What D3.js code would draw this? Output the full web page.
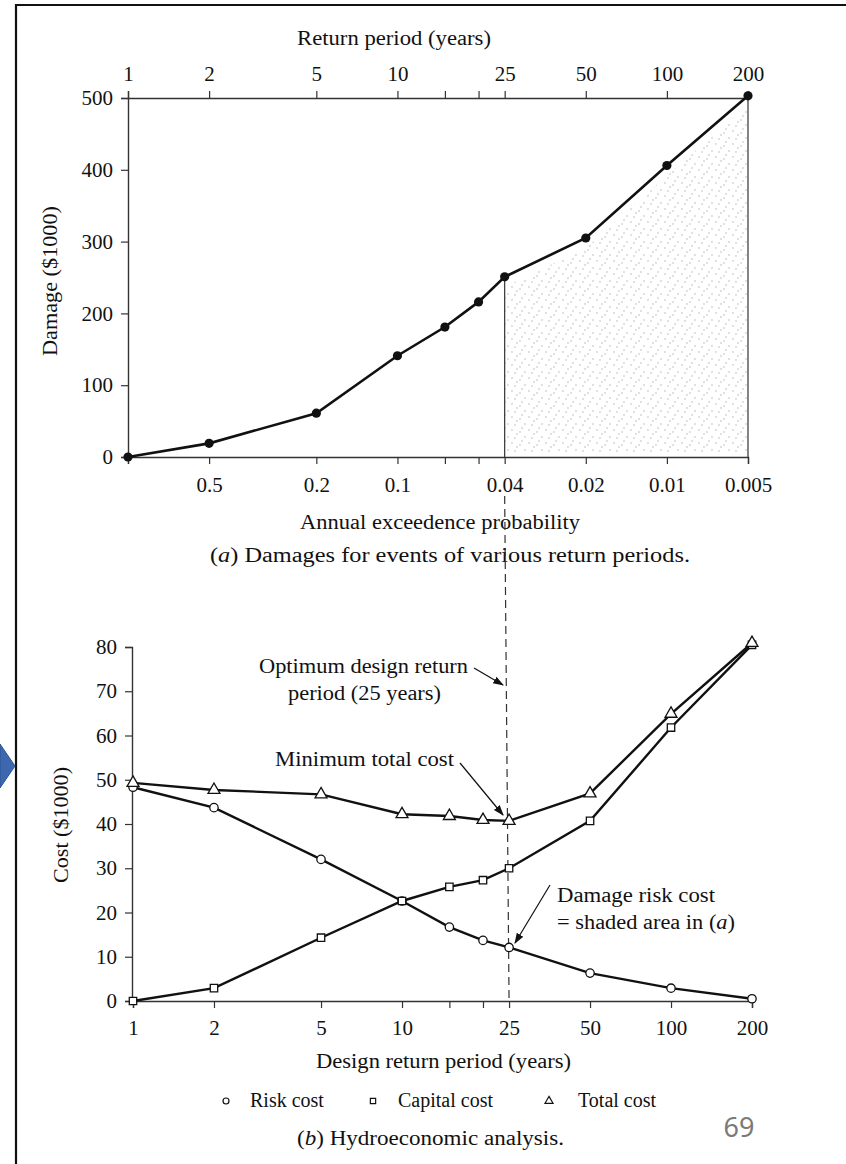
<!DOCTYPE html>
<html>
<head>
<meta charset="utf-8">
<script src="https://cdn.jsdelivr.net/npm/d3@7"></script>
<style>
  body { margin: 0; background: #fff; }
  text { font-family: "Liberation Serif", "Times New Roman", serif; fill: #111; }
</style>
</head>
<body>
<svg id="chart"></svg>
<script>
// data
var periods = [1, 2, 5, 10, 15, 20, 25, 50, 100, 200];
var periodLabels = ["1", "2", "5", "10", "", "", "25", "50", "100", "200"];
var probLabels = ["", "0.5", "0.2", "0.1", "", "", "0.04", "0.02", "0.01", "0.005"];
var damage = [0, 19, 61, 141, 181, 216, 251, 305, 406, 503];
var riskCost = [48.3, 43.7, 32, 22.6, 16.7, 13.7, 12.1, 6.3, 2.9, 0.5];
var capitalCost = [0, 2.9, 14.3, 22.6, 25.8, 27.3, 30.0, 40.7, 61.8, 80.5];
var totalCost = [49.3, 47.7, 46.7, 42.2, 41.8, 40.9, 40.7, 46.9, 64.9, 80.9];
var damageTicks = [0, 100, 200, 300, 400, 500];
var costTicks = [0, 10, 20, 30, 40, 50, 60, 70, 80];
var optimumPeriod = 25;

var width = 846, height = 1164;
var svg = d3.select("svg#chart").attr("width", width).attr("height", height);
svg.append("rect").attr("width", width).attr("height", height).attr("fill", "#fff");

// frame + blue chevron of the slide
svg.append("path").attr("d", "M16,1164 L16,5 L846,5").attr("fill", "none").attr("stroke", "#111").attr("stroke-width", 2.2);
svg.append("path").attr("d", "M0,744 L15,766 L0,788 Z").attr("fill", "#3d67ae").attr("stroke", "#2f528f").attr("stroke-width", 1);

// stipple pattern for the shaded area
var defs = svg.append("defs");
var pat = defs.append("pattern").attr("id", "stipple").attr("patternUnits", "userSpaceOnUse")
   .attr("width", 17).attr("height", 13);
[[2, 1], [10, 3], [15, 8], [5, 9], [12, 12], [7, 5]].forEach(function (p) {
   pat.append("circle").attr("cx", p[0]).attr("cy", p[1]).attr("r", 0.65).attr("fill", "#a8a8a8");
});

// ---------- (a) damages ----------
var xA = d3.scaleLog().domain([1, 200]).range([128, 748]);
var yA = d3.scaleLinear().domain([0, 500]).range([457, 98]);
var dataA = periods.map(function (p, i) { return { p: p, v: damage[i] }; });

var gA = svg.append("g");

var shaded = dataA.filter(function (d) { return d.p >= optimumPeriod; });
gA.append("path").datum(shaded).attr("fill", "url(#stipple)")
   .attr("transform", "translate(0,0)")
   .attr("d", d3.area().x(function (d) { return xA(d.p); }).y0(yA(0) - 4).y1(function (d) { return yA(d.v) + 10; }));

function styleAxis(g, size) {
   g.select(".domain").attr("stroke", "#333").attr("stroke-width", 1.4);
   g.selectAll(".tick line").attr("stroke", "#333").attr("stroke-width", 1.2);
   g.selectAll(".tick text").attr("fill", "#111").style("font-family", '"Liberation Serif", serif').style("font-size", size + "px");
}

var topAxis = gA.append("g").attr("transform", "translate(0," + yA(500) + ")")
   .call(d3.axisTop(xA).tickValues(periods).tickSizeOuter(0).tickSize(7).tickPadding(10)
      .tickFormat(function (d, i) { return periodLabels[i]; }));
styleAxis(topAxis, 21);

var bottomAxisA = gA.append("g").attr("transform", "translate(0," + yA(0) + ")")
   .call(d3.axisBottom(xA).tickValues(periods).tickSizeOuter(0).tickSize(7).tickPadding(13)
      .tickFormat(function (d, i) { return probLabels[i]; }));
styleAxis(bottomAxisA, 21);

var leftAxisA = gA.append("g").attr("transform", "translate(" + xA(1) + ",0)")
   .call(d3.axisLeft(yA).tickValues(damageTicks).tickSizeOuter(0).tickSize(7).tickPadding(8));
styleAxis(leftAxisA, 21);

// vertical guides at 25 and 200 years
gA.append("line").attr("x1", xA(optimumPeriod)).attr("x2", xA(optimumPeriod))
   .attr("y1", yA(damage[periods.indexOf(optimumPeriod)])).attr("y2", yA(0))
   .attr("stroke", "#333").attr("stroke-width", 1.2);
gA.append("line").attr("x1", xA(200)).attr("x2", xA(200)).attr("y1", yA(500)).attr("y2", yA(0))
   .attr("stroke", "#333").attr("stroke-width", 1.2);

gA.append("path").datum(dataA).attr("fill", "none").attr("stroke", "#111").attr("stroke-width", 2.6)
   .attr("d", d3.line().x(function (d) { return xA(d.p); }).y(function (d) { return yA(d.v); }));
gA.selectAll("circle.pt").data(dataA).enter().append("circle").attr("class", "pt")
   .attr("cx", function (d) { return xA(d.p); }).attr("cy", function (d) { return yA(d.v); })
   .attr("r", 4.6).attr("fill", "#111");

gA.append("text").attr("x", 297).attr("y", 45).attr("textLength", 194).attr("lengthAdjust", "spacingAndGlyphs")
   .style("font-size", "20px").text("Return period (years)");
gA.append("text").attr("transform", "translate(57,281) rotate(-90)").attr("text-anchor", "middle")
   .attr("textLength", 150).attr("lengthAdjust", "spacingAndGlyphs")
   .style("font-size", "20px").text("Damage ($1000)");
gA.append("text").attr("x", 300).attr("y", 529).attr("textLength", 280).attr("lengthAdjust", "spacingAndGlyphs")
   .style("font-size", "20px").text("Annual exceedence probability");
var capA = gA.append("text").attr("x", 210).attr("y", 562).attr("textLength", 480).attr("lengthAdjust", "spacingAndGlyphs")
   .style("font-size", "20px");
capA.append("tspan").text("(");
capA.append("tspan").style("font-style", "italic").text("a");
capA.append("tspan").text(") Damages for events of various return periods.");

// ---------- (b) hydroeconomic analysis ----------
var xB = d3.scaleLog().domain([1, 200]).range([133, 752]);
var yB = d3.scaleLinear().domain([0, 80]).range([1001, 647]);
var gB = svg.append("g");

// dashed optimum line running from (a) down to (b)
gB.append("line").attr("x1", xA(optimumPeriod)).attr("x2", xB(optimumPeriod))
   .attr("y1", 496).attr("y2", yB(0))
   .attr("stroke", "#333").attr("stroke-width", 1.2).attr("stroke-dasharray", "8,5");

var bottomAxisB = gB.append("g").attr("transform", "translate(0," + yB(0) + ")")
   .call(d3.axisBottom(xB).tickValues(periods).tickSizeOuter(0).tickSize(7).tickPadding(12)
      .tickFormat(function (d, i) { return periodLabels[i]; }));
styleAxis(bottomAxisB, 21);

var leftAxisB = gB.append("g").attr("transform", "translate(" + (xB(1) - 1) + ",0)")
   .call(d3.axisLeft(yB).tickValues(costTicks).tickSizeOuter(0).tickSize(7).tickPadding(8));
styleAxis(leftAxisB, 21);

var series = [
   { name: "Risk cost", values: riskCost, symbol: d3.symbolCircle, size: 55 },
   { name: "Capital cost", values: capitalCost, symbol: d3.symbolSquare, size: 55 },
   { name: "Total cost", values: totalCost, symbol: d3.symbolTriangle, size: 62 }
];
var lineB = d3.line().x(function (d) { return xB(d.p); }).y(function (d) { return yB(d.v); });

series.forEach(function (s) {
   var pts = periods.map(function (p, i) { return { p: p, v: s.values[i] }; });
   gB.append("path").datum(pts).attr("fill", "none").attr("stroke", "#111").attr("stroke-width", 2.4).attr("d", lineB);
   gB.selectAll(null).data(pts).enter().append("path")
      .attr("transform", function (d) { return "translate(" + xB(d.p) + "," + yB(d.v) + ")"; })
      .attr("d", d3.symbol().type(s.symbol).size(s.size))
      .attr("fill", "#fff").attr("stroke", "#111").attr("stroke-width", 1.3);
});

// annotations
defs.append("marker").attr("id", "arrow").attr("viewBox", "0 0 10 10").attr("refX", 9).attr("refY", 5)
   .attr("markerWidth", 9).attr("markerHeight", 9).attr("orient", "auto-start-reverse")
   .append("path").attr("d", "M0,1.5 L10,5 L0,8.5 Z").attr("fill", "#111");

function note(lines, x, y, anchor, lens) {
   lines.forEach(function (t, i) {
      gB.append("text").attr("x", x).attr("y", y + i * 27).attr("text-anchor", anchor)
         .attr("textLength", lens[i]).attr("lengthAdjust", "spacingAndGlyphs")
         .style("font-size", "20px").text(t);
   });
}
function arrow(x1, y1, x2, y2) {
   gB.append("line").attr("x1", x1).attr("y1", y1).attr("x2", x2).attr("y2", y2)
      .attr("stroke", "#111").attr("stroke-width", 1.2).attr("marker-end", "url(#arrow)");
}

note(["Optimum design return"], 259, 673, "start", [209]);
note(["period (25 years)"], 288, 700, "start", [153]);
arrow(474, 668, 503, 685);

note(["Minimum total cost"], 275, 766, "start", [179]);
arrow(460, 763, 503, 815);

gB.append("text").attr("x", 557).attr("y", 902).attr("textLength", 158).attr("lengthAdjust", "spacingAndGlyphs")
   .style("font-size", "20px").text("Damage risk cost");
var sh = gB.append("text").attr("x", 557).attr("y", 929).attr("textLength", 178).attr("lengthAdjust", "spacingAndGlyphs")
   .style("font-size", "20px");
sh.append("tspan").text("= shaded area in (");
sh.append("tspan").style("font-style", "italic").text("a");
sh.append("tspan").text(")");
arrow(550, 885, 515, 943);

gB.append("text").attr("x", 316).attr("y", 1068).attr("textLength", 255).attr("lengthAdjust", "spacingAndGlyphs")
   .style("font-size", "20px").text("Design return period (years)");
gB.append("text").attr("transform", "translate(68,825) rotate(-90)").attr("text-anchor", "middle")
   .attr("textLength", 116).attr("lengthAdjust", "spacingAndGlyphs")
   .style("font-size", "20px").text("Cost ($1000)");

// legend
var legendX = [226, 373, 549];
var legendTextX = [250, 398, 578];
series.forEach(function (s, i) {
   gB.append("path").attr("transform", "translate(" + legendX[i] + ",1101)")
      .attr("d", d3.symbol().type(s.symbol).size(28))
      .attr("fill", "#fff").attr("stroke", "#111").attr("stroke-width", 1.2);
   gB.append("text").attr("x", legendTextX[i]).attr("y", 1107).style("font-size", "20px").text(s.name);
});

var capB = gB.append("text").attr("x", 297).attr("y", 1145).attr("textLength", 267).attr("lengthAdjust", "spacingAndGlyphs")
   .style("font-size", "20px");
capB.append("tspan").text("(");
capB.append("tspan").style("font-style", "italic").text("b");
capB.append("tspan").text(") Hydroeconomic analysis.");

svg.append("text").attr("x", 739).attr("y", 1137).attr("text-anchor", "middle")
   .style("font-family", '"Noto Sans", "Open Sans", sans-serif').style("font-size", "27px").style("fill", "#7a7a7a")
   .text("69");
</script>
</body>
</html>
